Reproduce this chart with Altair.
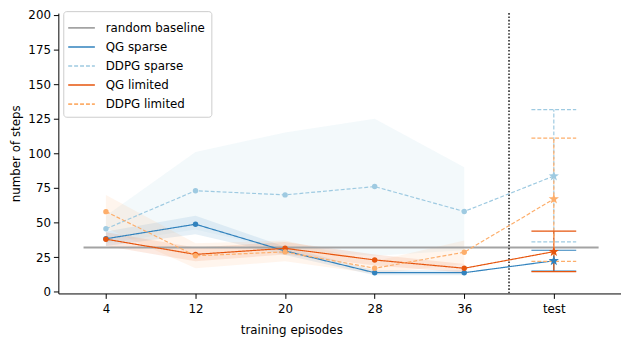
import altair as alt
import pandas as pd

# ---------------- data ----------------
series = ["QG sparse", "DDPG sparse", "QG limited", "DDPG limited"]
episodes = [4, 12, 20, 28, 36]
x_ticks = [4, 12, 20, 28, 36, 44]
test_x = 44
divider_x = 40
baseline_value = 32
baseline_span = [2, 48]

qg_sparse_mean = [38.3, 48.8, 29.5, 13.8, 13.8]
qg_sparse_lo = [33, 41.5, 26.5, 12, 12]
qg_sparse_hi = [43.5, 55, 32.5, 15.5, 15.5]
qg_sparse_test = [22.4, 15.0, 30.0]          # mean, low, high

ddpg_sparse_mean = [45.5, 73, 70, 76, 58]
ddpg_sparse_lo = [35, 45, 30, 26, 30]
ddpg_sparse_hi = [55, 101, 115, 125, 90]
ddpg_sparse_test = [83.6, 36.0, 131.6]

qg_limited_mean = [38, 27, 31.4, 23, 17]
qg_limited_lo = [33, 22, 27, 19, 14]
qg_limited_hi = [43, 32, 36, 27, 20]
qg_limited_test = [29.0, 14.5, 43.8]

ddpg_limited_mean = [57.9, 26, 28.8, 17, 28.6]
ddpg_limited_lo = [46, 17, 22, 13, 20]
ddpg_limited_hi = [70, 35, 37, 22, 37]
ddpg_limited_test = [67.0, 22.0, 111.0]

# ---------------- tables ----------------
train_src = {
    "QG sparse": (qg_sparse_mean, qg_sparse_lo, qg_sparse_hi),
    "DDPG sparse": (ddpg_sparse_mean, ddpg_sparse_lo, ddpg_sparse_hi),
    "QG limited": (qg_limited_mean, qg_limited_lo, qg_limited_hi),
    "DDPG limited": (ddpg_limited_mean, ddpg_limited_lo, ddpg_limited_hi),
}
test_src = {
    "QG sparse": qg_sparse_test,
    "DDPG sparse": ddpg_sparse_test,
    "QG limited": qg_limited_test,
    "DDPG limited": ddpg_limited_test,
}

train_rows, test_rows, cap_rows = [], [], []
for s in series:
    m, lo, hi = train_src[s]
    for x, a, b, c in zip(episodes, m, lo, hi):
        train_rows.append({"series": s, "x": x, "mean": a, "lo": b, "hi": c})
    tm, tlo, thi = test_src[s]
    test_rows.append({"series": s, "x": test_x, "mean": tm, "lo": tlo, "hi": thi})
    for v in (tlo, thi):
        cap_rows.append({"series": s, "y": v, "xa": test_x - 2, "xb": test_x + 2})

train = pd.DataFrame(train_rows)
test = pd.DataFrame(test_rows)
caps = pd.DataFrame(cap_rows)
line_df = pd.concat([train[["series", "x", "mean"]], test[["series", "x", "mean"]]])
baseline_df = pd.DataFrame([{"series": "random baseline", "y": baseline_value,
                             "x0": baseline_span[0], "x1": baseline_span[1]}])

# ---------------- scales ----------------
domain = ["random baseline"] + series
color_scale = alt.Scale(domain=domain,
                        range=["#a3a3a3", "#3182bd", "#9ecae1", "#e6550d", "#fdae6b"])
dash_scale = alt.Scale(domain=domain,
                       range=[[1, 0], [1, 0], [4, 2], [1, 0], [4, 2]])

FONT = "DejaVu Sans"
x_scale = alt.Scale(domain=[-0.25, 50], nice=False, zero=False)
y_scale = alt.Scale(domain=[-1.2, 201.3], nice=False, zero=False)

x_axis = alt.Axis(values=x_ticks, labelExpr="datum.value == 44 ? 'test' : datum.label",
                  title="training episodes", titleX=236, grid=False)
y_axis = alt.Axis(values=[0, 25, 50, 75, 100, 125, 150, 175, 200],
                  title="number of steps", grid=False)

X = lambda f: alt.X(f, type="quantitative", scale=x_scale, axis=x_axis)
Y = lambda f: alt.Y(f, type="quantitative", scale=y_scale, axis=y_axis)

star = ("M0,-1L0.235,-0.324L0.951,-0.309L0.380,0.124L0.588,0.809L0,0.4"
        "L-0.588,0.809L-0.380,0.124L-0.951,-0.309L-0.235,-0.324Z")

legend = alt.Legend(
    title=None, orient="none", legendX=5, legendY=-2,
    symbolType="M-1.35,0H1.35", symbolSize=400, symbolStrokeWidth=1.6,
    symbolOpacity=1, symbolOffset=1.5,
    labelFont=FONT, labelFontSize=12, labelColor="#000000", labelOffset=13.5,
    rowPadding=2.3, padding=6, strokeColor="#cccccc", cornerRadius=3,
    fillColor="#ffffff",
)

C = alt.Color("series:N", scale=color_scale, legend=legend)
D = alt.StrokeDash("series:N", scale=dash_scale, legend=legend)

bands = alt.Chart(train).mark_area(opacity=0.12).encode(
    x=X("x"), y=Y("lo"), y2="hi", color=C,
)

base_rule = alt.Chart(baseline_df).mark_rule(strokeWidth=2).encode(
    x=X("x0"), x2="x1", y=Y("y"), color=C, strokeDash=D,
)

divider = alt.Chart(baseline_df).mark_rule(
    color="#555555", strokeDash=[1.6, 1.8], strokeWidth=2
).encode(x=alt.datum(divider_x, type="quantitative"))

lines = alt.Chart(line_df).mark_line(strokeWidth=1.2).encode(
    x=X("x"), y=Y("mean"), color=C, strokeDash=D, order="x:Q",
)

points = alt.Chart(train).mark_point(filled=True, size=30, opacity=1).encode(
    x=X("x"), y=Y("mean"), color=C,
)

err = alt.Chart(test).mark_rule(strokeWidth=1.2).encode(
    x=X("x"), y=Y("lo"), y2="hi", color=C, strokeDash=D,
)

cap = alt.Chart(caps).mark_rule(strokeWidth=1.2).encode(
    x=X("xa"), x2="xb", y=Y("y"), color=C, strokeDash=D,
)

stars = alt.Chart(test).mark_point(shape=star, filled=True, size=120, opacity=1).encode(
    x=X("x"), y=Y("mean"), color=C,
)

chart = alt.layer(bands, base_rule, divider, lines, points, err, cap, stars).properties(
    width=570, height=284,
    autosize=alt.AutoSizeParams(type="none"),
    padding={"left": 51, "top": 3, "right": 0, "bottom": 46},
).configure_view(stroke=None).configure_axis(
    domainColor="#000000", tickColor="#000000", labelColor="#000000",
    titleColor="#000000", labelFont=FONT, titleFont=FONT,
    labelFontSize=12, titleFontSize=12, titleFontWeight="normal",
    tickSize=5, domainWidth=1,
).configure_axisY(titlePadding=5, labelPadding=3).configure_axisX(
    titlePadding=11, labelPadding=5)

chart.save("out.html", embed_options={"renderer": "svg", "actions": False})
